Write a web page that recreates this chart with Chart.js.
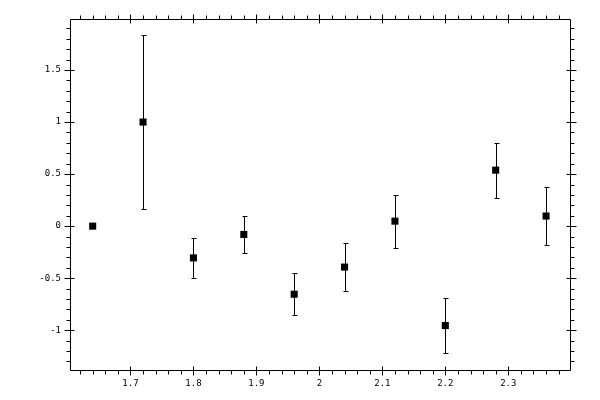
<!DOCTYPE html>
<html>
<head>
<meta charset="utf-8">
<script src="https://cdn.jsdelivr.net/npm/chart.js@4/dist/chart.umd.min.js"></script>
<style>
  html, body { margin: 0; padding: 0; background: #fff; }
  #wrap { width: 600px; height: 400px; }
</style>
</head>
<body>
<div id="wrap"><canvas id="plot"></canvas></div>
<script>
var xValues = [1.64, 1.72, 1.80, 1.88, 1.96, 2.04, 2.12, 2.20, 2.28, 2.36];
var yValues = [0, 1.0, -0.305, -0.08, -0.654, -0.393, 0.048, -0.955, 0.538, 0.097];
var yErrors = [0, 0.84, 0.195, 0.177, 0.202, 0.23, 0.255, 0.265, 0.265, 0.28];

var xTickLabels = [1.7, 1.8, 1.9, 2.0, 2.1, 2.2, 2.3];
var yTickLabels = [-1, -0.5, 0, 0.5, 1, 1.5];

var points = xValues.map(function (x, i) {
  return { x: x, y: yValues[i], err: yErrors[i] };
});

function crisp(v) { return Math.round(v) + 0.5; }

// vertical error bars with small caps
var errorBars = {
  id: "errorBars",
  beforeDatasetsDraw: function (chart) {
    var ctx = chart.ctx, xs = chart.scales.x, ys = chart.scales.y;
    ctx.save();
    ctx.strokeStyle = "#000";
    ctx.lineWidth = 1;
    points.forEach(function (p) {
      if (!p.err) return;
      var px = crisp(xs.getPixelForValue(p.x));
      var top = Math.round(ys.getPixelForValue(p.y + p.err)) + 0.5;
      var bot = Math.round(ys.getPixelForValue(p.y - p.err)) + 0.5;
      ctx.beginPath();
      ctx.moveTo(px, top); ctx.lineTo(px, bot);
      ctx.moveTo(px - 2, top); ctx.lineTo(px + 3, top);
      ctx.moveTo(px - 2, bot); ctx.lineTo(px + 3, bot);
      ctx.stroke();
    });
    ctx.restore();
  }
};

// box frame with major (crossing) and minor (outward) ticks on all sides
var frameTicks = {
  id: "frameTicks",
  afterDraw: function (chart) {
    var ctx = chart.ctx, a = chart.chartArea, xs = chart.scales.x, ys = chart.scales.y;
    var L = crisp(a.left), R = crisp(a.right), T = crisp(a.top), B = crisp(a.bottom);
    ctx.save();
    ctx.strokeStyle = "#000";
    ctx.lineWidth = 1;
    ctx.beginPath();
    ctx.rect(L, T, R - L, B - T);

    var i, v, p;
    // x ticks
    for (i = 81; i <= 119; i++) {
      v = i / 50;
      p = crisp(xs.getPixelForValue(v));
      if (p < L || p > R) continue;
      if (i % 5 === 0) {
        ctx.moveTo(p, B - 4); ctx.lineTo(p, B + 5);
        ctx.moveTo(p, T + 4); ctx.lineTo(p, T - 5);
      } else {
        ctx.moveTo(p, B); ctx.lineTo(p, B + 4);
        ctx.moveTo(p, T); ctx.lineTo(p, T - 4);
      }
    }
    // y ticks
    for (i = -13; i <= 19; i++) {
      v = i / 10;
      p = crisp(ys.getPixelForValue(v));
      if (p < T || p > B) continue;
      if (i % 5 === 0) {
        ctx.moveTo(L + 4, p); ctx.lineTo(L - 6, p);
        ctx.moveTo(R - 4, p); ctx.lineTo(R + 6, p);
      } else {
        ctx.moveTo(L, p); ctx.lineTo(L - 4, p);
        ctx.moveTo(R, p); ctx.lineTo(R + 4, p);
      }
    }
    ctx.stroke();
    ctx.restore();
  }
};

var tickFont = { family: "'DejaVu Sans Mono', monospace", size: 9 };

new Chart(document.getElementById("plot"), {
  type: "scatter",
  data: {
    datasets: [{
      data: points,
      pointStyle: "rect",
      pointRadius: 5,
      pointHoverRadius: 5,
      backgroundColor: "#000",
      borderWidth: 0
    }]
  },
  options: {
    responsive: true,
    maintainAspectRatio: false,
    animation: false,
    devicePixelRatio: 1,
    layout: { padding: { left: 0, top: 19, right: 30, bottom: 0 } },
    plugins: { legend: { display: false }, tooltip: { enabled: false } },
    scales: {
      x: {
        type: "linear",
        min: 1.604,
        max: 2.398,
        afterBuildTicks: function (s) {
          s.ticks = xTickLabels.map(function (v) { return { value: v }; });
        },
        afterFit: function (s) { s.height = 30; },
        grid: { display: false, drawTicks: false },
        border: { display: false },
        ticks: {
          color: "#000",
          font: tickFont,
          padding: 8,
          maxRotation: 0,
          callback: function (v) { return String(Math.round(v * 10) / 10); }
        }
      },
      y: {
        type: "linear",
        min: -1.382,
        max: 1.99,
        afterBuildTicks: function (s) {
          s.ticks = yTickLabels.map(function (v) { return { value: v }; });
        },
        afterFit: function (s) { s.width = 70; },
        grid: { display: false, drawTicks: false },
        border: { display: false },
        ticks: {
          color: "#000",
          font: tickFont,
          padding: 9,
          callback: function (v) { return String(v); }
        }
      }
    }
  },
  plugins: [errorBars, frameTicks]
});
</script>
</body>
</html>
